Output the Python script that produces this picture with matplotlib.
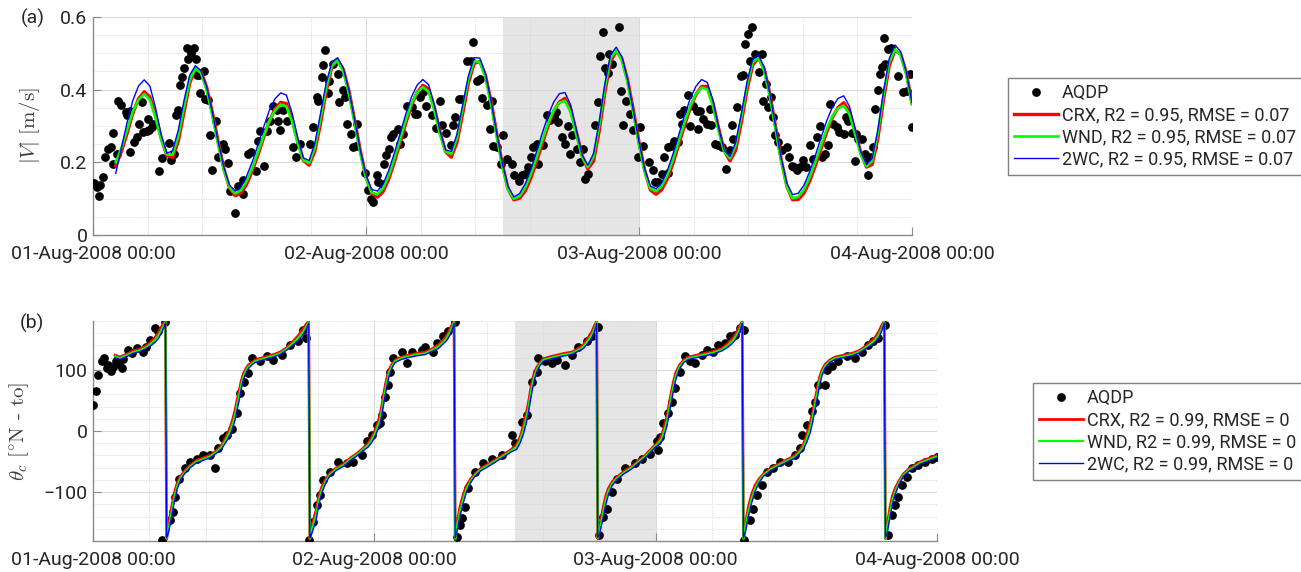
import numpy as np
import matplotlib
matplotlib.use("Agg")
import matplotlib.pyplot as plt
import matplotlib.dates as mdates
from matplotlib.ticker import MultipleLocator, FixedLocator
from datetime import datetime

plt.rcParams['font.family'] = ['Roboto', 'DejaVu Sans']
plt.rcParams['mathtext.fontset'] = 'cm'

# ---------------- data (hours since 01-Aug-2008 00:00) ----------------
# (a) current speed, model curves every 30 min from 02:00
spd_crx = [0.19, 0.23, 0.28, 0.335, 0.375, 0.394, 0.38, 0.33, 0.266, 0.218,
           0.213, 0.258, 0.338, 0.418, 0.458, 0.450, 0.406, 0.336, 0.257, 0.183,
           0.130, 0.108, 0.115, 0.139, 0.176, 0.220, 0.268, 0.312, 0.347, 0.365,
           0.362, 0.320, 0.258, 0.205, 0.192, 0.230, 0.306, 0.395, 0.462, 0.482,
           0.456, 0.397, 0.316, 0.232, 0.160, 0.115, 0.104, 0.119, 0.154, 0.201,
           0.254, 0.308, 0.357, 0.393, 0.412, 0.402, 0.352, 0.284, 0.229, 0.214,
           0.255, 0.334, 0.418, 0.472, 0.478, 0.440, 0.367, 0.278, 0.192, 0.126,
           0.097, 0.101, 0.121, 0.157, 0.203, 0.252, 0.300, 0.340, 0.366, 0.376,
           0.345, 0.283, 0.218, 0.182, 0.203, 0.286, 0.393, 0.478, 0.506, 0.485,
           0.426, 0.344, 0.256, 0.178, 0.124, 0.112, 0.125, 0.155, 0.198, 0.249,
           0.301, 0.349, 0.386, 0.409, 0.409, 0.364, 0.294, 0.231, 0.204, 0.233,
           0.310, 0.400, 0.468, 0.487, 0.458, 0.389, 0.299, 0.208, 0.134, 0.097,
           0.098, 0.115, 0.148, 0.190, 0.237, 0.283, 0.323, 0.351, 0.364, 0.341,
           0.286, 0.226, 0.187, 0.194, 0.266, 0.373, 0.466, 0.508, 0.498, 0.447,
           0.362]
spd_wnd = [0.20, 0.24, 0.29, 0.34, 0.372, 0.388, 0.372, 0.322, 0.262, 0.221,
           0.221, 0.272, 0.352, 0.426, 0.459, 0.445, 0.398, 0.328, 0.250, 0.179,
           0.131, 0.114, 0.123, 0.148, 0.184, 0.228, 0.273, 0.314, 0.343, 0.359,
           0.354, 0.312, 0.252, 0.206, 0.198, 0.241, 0.320, 0.406, 0.467, 0.480,
           0.450, 0.389, 0.308, 0.225, 0.156, 0.117, 0.112, 0.129, 0.164, 0.211,
           0.264, 0.317, 0.362, 0.393, 0.407, 0.394, 0.343, 0.277, 0.229, 0.223,
           0.268, 0.348, 0.429, 0.478, 0.477, 0.434, 0.359, 0.270, 0.186, 0.125,
           0.100, 0.107, 0.131, 0.168, 0.214, 0.262, 0.307, 0.343, 0.364, 0.369,
           0.337, 0.274, 0.214, 0.187, 0.216, 0.302, 0.407, 0.487, 0.508, 0.481,
           0.419, 0.335, 0.248, 0.174, 0.128, 0.120, 0.135, 0.166, 0.209, 0.259,
           0.310, 0.355, 0.388, 0.406, 0.401, 0.355, 0.286, 0.228, 0.211, 0.247,
           0.325, 0.413, 0.476, 0.487, 0.452, 0.381, 0.291, 0.202, 0.133, 0.101,
           0.105, 0.125, 0.159, 0.201, 0.247, 0.291, 0.327, 0.349, 0.356, 0.332,
           0.278, 0.221, 0.189, 0.204, 0.281, 0.387, 0.476, 0.511, 0.495, 0.44,
           0.36]
spd_2wc = [0.17, 0.24, 0.31, 0.37, 0.41, 0.427, 0.41, 0.35, 0.275, 0.225,
           0.232, 0.289, 0.370, 0.440, 0.466, 0.452, 0.406, 0.337, 0.258, 0.187,
           0.137, 0.121, 0.133, 0.162, 0.201, 0.248, 0.297, 0.343, 0.375, 0.391,
           0.385, 0.336, 0.266, 0.212, 0.205, 0.252, 0.334, 0.418, 0.476, 0.488,
           0.460, 0.398, 0.317, 0.233, 0.164, 0.125, 0.121, 0.140, 0.178, 0.226,
           0.280, 0.333, 0.380, 0.413, 0.428, 0.414, 0.358, 0.287, 0.234, 0.230,
           0.278, 0.358, 0.438, 0.488, 0.487, 0.444, 0.368, 0.279, 0.195, 0.133,
           0.105, 0.114, 0.141, 0.181, 0.230, 0.281, 0.328, 0.366, 0.389, 0.392,
           0.357, 0.287, 0.220, 0.192, 0.224, 0.311, 0.416, 0.496, 0.517, 0.490,
           0.428, 0.344, 0.257, 0.182, 0.135, 0.127, 0.144, 0.178, 0.224, 0.277,
           0.329, 0.375, 0.409, 0.428, 0.420, 0.370, 0.295, 0.233, 0.216, 0.255,
           0.334, 0.421, 0.485, 0.496, 0.461, 0.390, 0.300, 0.211, 0.143, 0.111,
           0.115, 0.137, 0.174, 0.219, 0.268, 0.314, 0.352, 0.376, 0.383, 0.354,
           0.292, 0.229, 0.194, 0.211, 0.289, 0.396, 0.486, 0.523, 0.505, 0.448,
           0.365]

# (a) AQDP observations
spd_obs_h = [0.09, 0.38, 0.53, 0.62, 0.91, 1.05, 1.35, 1.55, 1.79, 1.79, 2.08, 2.23, 2.43,
             2.90, 3.02, 3.25, 3.25, 3.60, 3.84, 4.07, 4.28, 4.42, 4.72, 4.95, 4.86, 5.16,
             5.30, 5.83, 6.04, 6.68, 6.90, 7.12, 7.30, 7.50, 7.65, 7.80, 8.00, 8.23, 8.38,
             8.60, 8.88, 9.05, 9.10, 9.35, 9.40, 9.76, 9.84, 10.13, 10.28, 10.50, 10.80,
             11.00, 11.40, 11.60, 11.90, 12.04, 12.48, 12.77, 13.16, 13.20, 13.65, 13.86,
             14.30, 14.47, 14.68, 15.03, 15.32, 15.56, 15.79, 16.14, 16.23, 16.44, 16.73,
             17.08, 17.61, 17.84, 18.20, 19.07, 19.31, 19.66, 19.80, 20.10, 20.25, 20.39,
             20.68, 20.77, 21.13, 21.56, 21.65, 22.00, 22.15, 22.36, 22.65, 22.88, 23.10,
             23.17, 23.90, 24.20, 24.44, 24.64, 24.94, 25.08, 25.40, 25.60, 25.80, 26.00,
             26.20, 26.40, 26.84, 27.00, 27.28, 27.57, 28.00, 28.30, 28.45, 28.74, 29.00,
             29.24, 29.77, 30.12, 30.50, 30.65, 31.03, 31.47, 31.67, 31.82, 32.17, 32.40,
             32.85, 33.23, 33.43, 33.73, 34.02, 34.22, 34.60, 34.90, 35.04, 35.19, 35.50,
             35.86, 36.07, 36.36, 36.80, 37.04, 37.45, 37.68, 37.97, 38.27, 38.50, 38.70,
             39.00, 39.15, 39.60, 39.90, 40.20, 40.50, 40.67, 40.90, 41.20, 41.49, 41.73,
             41.93, 42.08, 42.52, 42.81, 43.10, 43.25, 43.48, 44.13, 44.36, 44.57, 44.80,
             45.00, 45.24, 45.39, 45.60, 46.24, 46.41, 46.62, 46.82, 47.20, 47.50, 47.93,
             48.08, 48.37, 48.87, 49.25, 49.40, 49.70, 50.04, 50.22, 50.51, 50.57, 50.80,
             51.10, 51.40, 51.60, 51.74, 51.98, 52.33, 52.47, 52.77, 53.10, 53.20, 53.40,
             53.65, 53.94, 54.23, 54.30, 54.67, 54.97, 55.26, 55.61, 55.99, 56.20, 56.28,
             56.58, 56.96, 57.16, 57.31, 57.60, 57.75, 57.90, 58.20, 58.54, 58.80, 58.92,
             59.13, 59.36, 59.60, 59.80, 59.95, 60.24, 60.53, 60.97, 61.18, 61.43, 61.60,
             61.85, 62.14, 62.44, 62.70, 63.02, 63.32, 63.61, 63.90, 64.05, 64.34, 64.63,
             64.78, 65.07, 65.37, 65.57, 66.04, 66.16, 66.40, 66.74, 66.98, 67.10, 67.27,
             67.62, 67.86, 68.06, 68.15, 68.30, 68.59, 68.74, 68.97, 69.18, 69.32, 69.56,
             69.67, 69.91, 70.14, 70.79, 71.23, 71.52, 71.81, 71.96]
spd_obs = [0.142, 0.133, 0.107, 0.137, 0.160, 0.215, 0.238, 0.243, 0.280, 0.196, 0.222, 0.368, 0.357,
           0.338, 0.330, 0.340, 0.229, 0.256, 0.270, 0.306, 0.366, 0.283, 0.287, 0.290, 0.320, 0.297,
           0.306, 0.175, 0.212, 0.253, 0.207, 0.224, 0.329, 0.345, 0.414, 0.434, 0.461, 0.516, 0.484,
           0.500, 0.516, 0.484, 0.440, 0.440, 0.390, 0.452, 0.375, 0.372, 0.274, 0.178, 0.313,
           0.216, 0.250, 0.238, 0.197, 0.120, 0.061, 0.134, 0.112, 0.151, 0.222, 0.228,
           0.176, 0.258, 0.286, 0.190, 0.286, 0.315, 0.356, 0.343, 0.315, 0.288, 0.343,
           0.315, 0.242, 0.215, 0.251, 0.251, 0.297, 0.381, 0.370, 0.434, 0.469, 0.509,
           0.390, 0.425, 0.470, 0.443, 0.365, 0.400, 0.379, 0.306, 0.279, 0.242, 0.245,
           0.306, 0.171, 0.124, 0.100, 0.090, 0.164, 0.146, 0.140, 0.196, 0.219, 0.238,
           0.270, 0.277, 0.292, 0.250, 0.278, 0.356, 0.352, 0.334, 0.332, 0.379, 0.393,
           0.354, 0.329, 0.295, 0.370, 0.302, 0.280, 0.247, 0.302, 0.326, 0.375, 0.375,
           0.480, 0.478, 0.530, 0.425, 0.430, 0.377, 0.358, 0.292, 0.370, 0.244, 0.242,
           0.196, 0.274, 0.210, 0.196, 0.164, 0.150, 0.164, 0.169, 0.187, 0.215, 0.242,
           0.250, 0.196, 0.247, 0.329, 0.316, 0.325, 0.338, 0.310, 0.270, 0.250, 0.300,
           0.224, 0.274, 0.238, 0.200, 0.238, 0.155, 0.169, 0.302, 0.365, 0.493, 0.560,
           0.461, 0.445, 0.498, 0.470, 0.573, 0.397, 0.302, 0.370, 0.333, 0.288, 0.215,
           0.297, 0.244, 0.200, 0.178, 0.146, 0.146, 0.169, 0.215, 0.171, 0.242, 0.246,
           0.260, 0.256, 0.333, 0.306, 0.343, 0.384, 0.301, 0.356, 0.342, 0.292, 0.340,
           0.320, 0.306, 0.347, 0.302, 0.251, 0.247, 0.242, 0.183, 0.235, 0.303, 0.265,
           0.352, 0.438, 0.441, 0.525, 0.553, 0.480, 0.573, 0.498, 0.448, 0.498, 0.368,
           0.416, 0.352, 0.379, 0.324, 0.274, 0.256, 0.233, 0.242, 0.215, 0.190, 0.188,
           0.178, 0.187, 0.206, 0.188, 0.247, 0.210, 0.270, 0.301, 0.215, 0.224, 0.247,
           0.361, 0.306, 0.297, 0.283, 0.279, 0.324, 0.315, 0.280, 0.204, 0.278, 0.265,
           0.265, 0.224, 0.206, 0.165, 0.215, 0.242, 0.347, 0.399, 0.443, 0.463, 0.543,
           0.470, 0.511, 0.516, 0.438, 0.393, 0.397, 0.443, 0.297]

# (b) current direction, model curves
dir_mod_h = [1.88, 2.3, 2.9, 3.44, 4.0, 4.44, 4.9, 5.29, 5.6, 5.86, 6.05, 6.18, 6.28,
             6.45, 6.71, 6.95, 7.2, 7.5, 7.85, 8.3, 8.84, 9.4, 9.98, 10.5, 10.98, 11.35, 11.69,
             11.92, 12.12, 12.3, 12.48, 12.65, 12.83, 13.05, 13.25, 13.55, 13.82, 14.3, 14.82,
             15.4, 15.95, 16.5, 17.09, 17.55, 17.95, 18.2, 18.4, 18.5,
             18.7, 19.03, 19.25, 19.51, 19.85, 20.22, 20.8, 21.36, 21.9, 22.5, 23.0, 23.49,
             23.8, 24.06, 24.3, 24.49, 24.68, 24.86, 25.05, 25.25, 25.5, 25.77, 26.3, 26.9,
             27.6, 28.33, 28.9, 29.46, 29.85, 30.17, 30.45, 30.66, 30.8, 30.9,
             31.05, 31.31, 31.6, 31.88, 32.2, 32.59, 33.1, 33.73, 34.4, 35.15, 35.7, 36.15,
             36.45, 36.72, 36.95, 37.14, 37.3, 37.48, 37.65, 37.85, 38.1, 38.42, 38.9, 39.56,
             40.2, 40.84, 41.35, 41.84, 42.2, 42.55, 42.8, 42.97, 43.06,
             43.2, 43.54, 43.75, 43.97, 44.3, 44.68, 45.3, 45.96, 46.5, 47.1, 47.6, 47.95,
             48.23, 48.52, 48.75, 48.95, 49.15, 49.37, 49.55, 49.71, 49.9, 50.08, 50.4, 50.79,
             51.5, 52.22, 52.9, 53.64, 54.15, 54.63, 54.95, 55.2, 55.38, 55.49,
             55.65, 55.91, 56.2, 56.48, 56.8, 57.2, 57.8, 58.47, 59.2, 59.9, 60.3, 60.6,
             60.9, 61.17, 61.4, 61.6, 61.8, 61.97, 62.2, 62.45, 62.85, 63.31, 64.0, 64.73,
             65.3, 65.87, 66.3, 66.72, 67.05, 67.29, 67.5, 67.6,
             67.72, 68.0, 68.2, 68.43, 68.75, 69.14, 69.6, 70.13, 70.6, 71.13, 71.55, 71.98]
dir_crx = [124, 121, 126, 131, 134, 138, 145, 153, 162, 171, 177, 179, -177,
           -154, -124, -101, -84, -73, -65, -56, -48, -44, -40, -33, -23, -10, 5,
           19, 34, 51, 67, 82, 94, 102, 108, 112, 116, 119, 122,
           125, 129, 136, 147, 157, 168, 175, 179, -177,
           -153, -130, -108, -92, -79, -69, -60, -54, -45, -37, -29, -20,
           -10, 1, 14, 26, 46, 67, 85, 100, 109, 116, 121, 124,
           127, 129, 134, 141, 148, 156, 167, 175, 179, -177,
           -151, -124, -103, -89, -79, -70, -61, -54, -46, -37, -30, -22,
           -9, 9, 28, 45, 64, 83, 95, 104, 111, 118, 121, 124,
           127, 129, 134, 141, 151, 162, 173, 179, -176,
           -158, -124, -106, -94, -83, -76, -66, -58, -49, -40, -30, -23,
           -17, -7, 8, 23, 44, 67, 83, 95, 103, 109, 116, 121,
           124, 127, 130, 135, 143, 153, 163, 173, 179, -177,
           -153, -124, -103, -89, -79, -70, -61, -54, -47, -40, -31, -22,
           -6, 12, 31, 51, 71, 87, 100, 109, 116, 121, 124, 127,
           131, 138, 145, 153, 163, 173, 179, -176,
           -158, -124, -106, -94, -82, -70, -62, -56, -50, -46, -43, -40]
dir_wnd = [122, 119, 124, 129, 132, 136, 142, 149, 157, 166, 174, 178, -176,
           -160, -132, -108, -89, -76, -67, -58, -50, -46, -42, -35, -26, -14, -1,
           12, 26, 43, 59, 76, 89, 99, 105, 110, 114, 117, 120,
           123, 127, 134, 144, 153, 163, 171, 178, -176,
           -160, -138, -115, -97, -82, -71, -62, -56, -47, -39, -31, -23,
           -14, -4, 8, 18, 38, 59, 78, 95, 106, 114, 119, 122,
           125, 127, 132, 138, 145, 152, 162, 171, 178, -176,
           -158, -132, -110, -94, -82, -72, -63, -56, -48, -39, -32, -26,
           -14, 2, 20, 37, 56, 76, 89, 100, 109, 116, 119, 122,
           125, 127, 132, 138, 147, 157, 168, 178, -175,
           -165, -132, -113, -99, -86, -78, -68, -60, -51, -42, -32, -25,
           -20, -12, 1, 15, 36, 59, 76, 89, 99, 106, 114, 119,
           122, 125, 128, 133, 140, 149, 158, 168, 178, -176,
           -160, -132, -110, -94, -82, -72, -63, -56, -49, -42, -34, -26,
           -12, 4, 23, 43, 63, 81, 96, 106, 114, 119, 122, 125,
           129, 136, 142, 149, 158, 168, 179, -175,
           -165, -132, -113, -99, -85, -72, -64, -58, -52, -48, -45, -42]
dir_2wc = [120, 117, 122, 127, 130, 134, 139, 145, 152, 161, 170, 177, -175,
           -166, -140, -115, -94, -79, -69, -60, -52, -48, -44, -37, -29, -18, -7,
           5, 18, 35, 51, 69, 84, 95, 102, 108, 112, 115, 118,
           121, 125, 132, 141, 149, 158, 167, 176, -175,
           -166, -146, -122, -102, -85, -73, -64, -58, -49, -41, -33, -26,
           -18, -9, 2, 11, 30, 51, 71, 89, 103, 112, 117, 120,
           123, 125, 130, 135, 142, 148, 157, 167, 176, -175,
           -164, -140, -117, -99, -85, -74, -65, -58, -50, -41, -34, -30,
           -19, -5, 12, 29, 48, 68, 83, 96, 106, 114, 117, 120,
           123, 125, 130, 135, 143, 152, 164, 176, -174,
           -170, -140, -120, -104, -89, -80, -70, -62, -53, -44, -34, -27,
           -23, -17, -6, 7, 28, 51, 69, 83, 95, 103, 112, 117,
           120, 123, 126, 131, 137, 145, 153, 164, 176, -175,
           -166, -140, -117, -99, -85, -74, -65, -58, -51, -44, -37, -30,
           -18, -4, 15, 35, 55, 74, 91, 103, 112, 117, 120, 123,
           127, 134, 139, 145, 153, 164, 177, -174,
           -170, -140, -120, -104, -88, -74, -66, -60, -54, -50, -47, -44]

# (b) AQDP observations
dir_obs_h = [0.03, 0.26, 0.46, 0.74, 0.94, 1.17, 1.31, 1.50, 1.72, 1.96, 2.20, 2.45, 2.60,
             3.01, 3.30, 3.73, 4.24, 4.52, 4.86, 5.29, 5.57, 6.14, 5.86,
             6.57, 6.80, 7.00, 7.37, 7.85, 8.28, 8.84, 9.41, 9.98, 10.41, 10.69, 11.12,
             11.40, 11.83, 12.26, 12.54, 12.88, 13.25, 13.54, 14.25, 14.82, 15.39, 16.10,
             16.81, 17.52, 17.95, 18.17, 18.46,
             18.80, 19.08, 19.37, 19.65, 20.22, 20.93, 21.64, 22.21, 22.92, 23.35, 23.78,
             24.20, 24.49, 24.63, 24.91, 25.14, 25.34, 25.62, 26.33, 26.76, 27.19, 28.04,
             28.33, 29.04, 29.32, 29.89, 30.32, 30.89, 31.03,
             31.31, 31.51, 31.74, 32.02, 32.59, 33.30, 34.00, 34.87, 35.72, 36.00, 36.57,
             37.00, 37.43, 37.85, 37.99, 38.56, 39.13, 39.56, 40.27, 40.84, 41.41, 42.12,
             42.55, 43.06, 43.17,
             43.54, 43.83, 44.25, 44.68, 45.39, 46.24, 46.81, 47.52, 48.09, 48.23, 48.38,
             48.66, 49.09, 49.37, 49.66, 50.08, 50.51, 50.94, 51.36, 51.93, 52.36, 52.93,
             53.35, 53.92, 54.35, 54.78, 55.20, 55.57, 55.57,
             56.06, 56.34, 56.62, 57.05, 57.48, 58.05, 58.62, 59.33, 59.90, 60.32, 60.46,
             60.89, 61.32, 61.60, 61.89, 62.45, 62.60, 63.02, 63.59, 64.30, 65.01, 65.58,
             66.15, 66.58, 67.00, 67.57, 67.86,
             68.14, 68.43, 68.71, 68.99, 69.42, 69.85, 70.42, 70.99, 71.56, 71.98]
dir_obs = [43, 66, 92, 114, 119, 103, 108, 98, 105, 114, 110, 103, 118,
           133, 128, 136, 130, 138, 149, 169, 163, 179, -179,
           -146, -132, -108, -78, -61, -50, -45, -39, -39, -61, -28, -12,
           -7, 4, 29, 62, 81, 95, 119, 114, 122, 116, 125,
           141, 147, 166, 152, -179,
           -149, -121, -105, -80, -67, -50, -53, -50, -39, -17, -7,
           10, 13, 26, 56, 76, 97, 119, 130, 111, 130, 133,
           138, 130, 144, 155, 163, 179, -173,
           -154, -143, -124, -94, -67, -53, -45, -39, -7, -20, 15,
           26, 81, 97, 119, 114, 111, 116, 108, 125, 138, 147,
           155, 171, -170,
           -140, -127, -99, -78, -61, -53, -45, -37, -17, -31, -9,
           13, 29, 48, 70, 97, 122, 114, 111, 125, 133, 130,
           141, 144, 155, 157, 168, 166, -179,
           -146, -127, -105, -89, -67, -61, -50, -50, -39, -28, -7,
           10, 32, 48, 76, 76, 100, 106, 114, 122, 119, 130,
           141, 147, 152, 174, -170,
           -138, -121, -108, -89, -75, -61, -56, -50, -45, -42]

# ---------------- plotting ----------------
base = mdates.date2num(datetime(2008, 8, 1))
def to_x(hours):
    return base + np.asarray(hours, dtype=float) / 24.0

spd_mod_x = to_x(2.0 + 0.5 * np.arange(len(spd_wnd)))

fig = plt.figure(figsize=(13.01, 5.72), dpi=100)
ax1 = fig.add_axes([93 / 1301, 1 - 235 / 572, 819 / 1301, 218 / 572])
ax2 = fig.add_axes([93 / 1301, 1 - 541 / 572, 844 / 1301, 220 / 572])

tick_col = '#262626'
spine_col = '#8a8a8a'

def style_axes(ax):
    ax.set_axisbelow(True)
    ax.axvspan(base + 1.5, base + 2.0, color='#e5e5e5', zorder=0.2, lw=0)
    ax.set_xlim(base, base + 3)
    ax.xaxis.set_major_locator(FixedLocator([base, base + 1, base + 2, base + 3]))
    ax.xaxis.set_minor_locator(MultipleLocator(0.2))
    ax.xaxis.set_major_formatter(mdates.DateFormatter('%d-%b-%Y %H:%M'))
    ax.grid(which='major', color='#d8d8d8', lw=0.7)
    ax.grid(which='minor', color='#d8d8d8', lw=0.6, ls=(0, (1.5, 1.5)))
    for s in ['top', 'right']:
        ax.spines[s].set_visible(False)
    for s in ['left', 'bottom']:
        ax.spines[s].set_color(spine_col)
        ax.spines[s].set_linewidth(1.0)
    ax.tick_params(which='major', direction='in', length=6, color=spine_col,
                   labelsize=14, labelcolor=tick_col)
    ax.tick_params(which='minor', length=0)
    ax.tick_params(axis='x', pad=7)
    ax.tick_params(axis='y', pad=4)

# (a)
style_axes(ax1)
ax1.plot(to_x(spd_obs_h), spd_obs, 'o', color='k', ms=6.3, mew=0, label='AQDP', zorder=3)
ax1.plot(spd_mod_x, spd_crx, color='#ff0000', lw=2.4, label='CRX, R2 = 0.95, RMSE = 0.07', zorder=4)
ax1.plot(spd_mod_x, spd_wnd, color='#00ff00', lw=1.9, label='WND, R2 = 0.95, RMSE = 0.07', zorder=5)
ax1.plot(spd_mod_x, spd_2wc, color='#0000ff', lw=1.0, label='2WC, R2 = 0.95, RMSE = 0.07', zorder=6)
ax1.set_ylim(0, 0.6)
ax1.set_yticks([0, 0.2, 0.4, 0.6])
ax1.set_yticklabels(['0', '0.2', '0.4', '0.6'])
ax1.yaxis.set_minor_locator(MultipleLocator(0.05))
ax1.set_ylabel(r'$|V|\ [\mathrm{m/s}]$', fontsize=15, color='#404040')
ax1.yaxis.set_label_coords(-0.062, 0.5)

# (b)
style_axes(ax2)
ax2.plot(to_x(dir_obs_h), dir_obs, 'o', color='k', ms=6.3, mew=0, label='AQDP', zorder=3)
ax2.plot(to_x(dir_mod_h), dir_crx, color='#ff0000', lw=2.0, label='CRX, R2 = 0.99, RMSE = 0', zorder=4)
ax2.plot(to_x(dir_mod_h), dir_wnd, color='#00ff00', lw=1.6, label='WND, R2 = 0.99, RMSE = 0', zorder=5)
ax2.plot(to_x(dir_mod_h), dir_2wc, color='#0000ff', lw=1.0, label='2WC, R2 = 0.99, RMSE = 0', zorder=6)
ax2.set_ylim(-180, 180)
ax2.set_yticks([-100, 0, 100])
ax2.yaxis.set_minor_locator(MultipleLocator(20))
ax2.set_ylabel(r'$\theta_c\ [^{\circ}\text{N - to}]$', fontsize=15, color='#404040')
ax2.yaxis.set_label_coords(-0.073, 0.5)

leg_kw = dict(loc='upper left', fontsize=13, frameon=True, fancybox=False,
              framealpha=1, edgecolor='#808080', borderaxespad=0, borderpad=0.35,
              labelspacing=0.22, handlelength=2.4, handletextpad=0.25)
l1 = ax1.legend(bbox_to_anchor=(1008 / 1301, 1 - 78 / 572),
                bbox_transform=fig.transFigure, **leg_kw)
l2 = ax2.legend(bbox_to_anchor=(1033 / 1301, 1 - 383 / 572),
                bbox_transform=fig.transFigure, **leg_kw)
for lg in (l1, l2):
    lg.get_frame().set_linewidth(1.0)
    for t in lg.get_texts():
        t.set_color(tick_col)

fig.text(33 / 1301, 1 - 18 / 572, '(a)', fontsize=14, color=tick_col, ha='center', va='center')
fig.text(32 / 1301, 1 - 323 / 572, '(b)', fontsize=14, color=tick_col, ha='center', va='center')

fig.savefig('out.png', dpi=100)
